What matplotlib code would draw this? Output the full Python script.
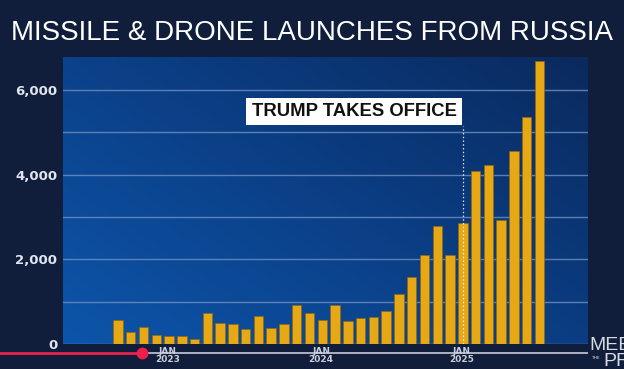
"""Monthly missile & drone launches from Russia, broadcast-style bar chart."""

import matplotlib
matplotlib.use("Agg")
import matplotlib.pyplot as plt
import numpy as np
from matplotlib.colors import LinearSegmentedColormap
from matplotlib.lines import Line2D

# Data, Oct 2022 - Jul 2025
months = [
    "2022-10", "2022-11", "2022-12",
    "2023-01", "2023-02", "2023-03", "2023-04", "2023-05", "2023-06",
    "2023-07", "2023-08", "2023-09", "2023-10", "2023-11", "2023-12",
    "2024-01", "2024-02", "2024-03", "2024-04", "2024-05", "2024-06",
    "2024-07", "2024-08", "2024-09", "2024-10", "2024-11", "2024-12",
    "2025-01", "2025-02", "2025-03", "2025-04", "2025-05", "2025-06",
    "2025-07",
]
launches = [
    556, 279, 392,
    217, 200, 191, 122, 723, 488,
    470, 357, 670, 374, 470, 922,
    723, 574, 932, 548, 609, 645,
    791, 1184, 1578, 2112, 2795, 2112,
    2868, 4095, 4236, 2927, 4551, 5369,
    6686,
]
tick_pos = [3.9, 15.9, 26.9]
tick_labels = ["JAN\n2023", "JAN\n2024", "JAN\n2025"]
event_month = "2025-01"
event_label = "TRUMP TAKES OFFICE"

W, H = 624, 369
BG = "#101d3b"
GOLD = "#e6a815"
GRID = "#6a8cc0"

fig = plt.figure(figsize=(W / 100, H / 100), dpi=100, facecolor=BG)
ax = fig.add_axes([63 / W, 1 - 344 / H, (588 - 63) / W, (344 - 57) / H])
ax.set_facecolor("none")

x = np.arange(len(months))
ax.set_xlim(-4.3, 36.8)
ax.set_ylim(0, 6780)

# blue panel gradient (lighter lower-left, darker upper-right)
gx, gy = np.meshgrid(np.linspace(0, 1, 200), np.linspace(0, 1, 120))
shade = np.clip(0.55 * gx + 0.45 * gy, 0, 1)
cmap = LinearSegmentedColormap.from_list("panel", ["#0d55aa", "#0b3f86", "#0a2a5e"])
ax.imshow(shade, cmap=cmap, origin="lower", extent=[0, 1, 0, 1],
          transform=ax.transAxes, aspect="auto", zorder=0, interpolation="bilinear")

ax.set_yticks([0, 2000, 4000, 6000])
ax.set_yticks([1000, 3000, 5000], minor=True)
ax.grid(True, axis="y", which="both", color=GRID, lw=1.0, alpha=0.85, zorder=1)
ax.set_axisbelow(True)

ax.bar(x, launches, width=0.74, color=GOLD, edgecolor="#94670a",
       linewidth=0.5, zorder=3)

# event marker
ev = months.index(event_month)
ax.vlines(ev, 0, 5150, colors="white", linestyles=(0, (1.2, 1.8)),
          lw=0.9, alpha=0.85, zorder=4)
ax.annotate(event_label, xy=(ev, 5150), xytext=(-4.5, 4.5),
            textcoords="offset points", ha="right", va="bottom",
            fontsize=13.3, fontweight="bold", color="#111111",
            family="Liberation Sans",
            bbox=dict(boxstyle="square,pad=0.28", fc="white", ec="none"),
            zorder=5)

for s in ax.spines.values():
    s.set_visible(False)
ax.tick_params(axis="y", which="both", length=0, pad=4,
               labelcolor="#dfe4ee", labelsize=9.5)
for lab in ax.get_yticklabels():
    lab.set_fontweight("bold")
ax.yaxis.set_major_formatter(plt.FuncFormatter(lambda v, _: f"{v:,.0f}"))

ax.set_xticks(tick_pos)
ax.set_xticklabels(tick_labels, fontsize=6.5, color="#c9ceda",
                   linespacing=0.85, fontweight="bold")
ax.tick_params(axis="x", length=0, pad=2)

fig.text(0.5, 1 - 33 / H, "MISSILE & DRONE LAUNCHES FROM RUSSIA",
         ha="center", va="center", color="white", fontsize=20,
         family="Liberation Sans")

# video player scrub bar
yb = 1 - 353 / H
fig.add_artist(Line2D([142 / W, 587 / W], [yb, yb], color="#aeb3c2",
                      lw=1.4, zorder=-1))
fig.add_artist(Line2D([0, 142 / W], [yb, yb], color="#e8234e",
                      lw=2.0, zorder=-1))
fig.add_artist(Line2D([142 / W], [yb], marker="o", ms=7.5,
                      color="#ee1f4a", zorder=-1))

# network logo, cut by the frame as in the broadcast
fig.text(589 / W, 1 - 345 / H, "MEET", fontsize=14, color="#d6dae2",
         ha="left", va="center", family="Liberation Sans")
fig.text(591 / W, 1 - 358 / H, "THE", fontsize=3.2, color="#d6dae2",
         ha="left", va="center")
fig.text(603 / W, 1 - 362 / H, "PRESS", fontsize=14, color="#d6dae2",
         ha="left", va="center", family="Liberation Sans")

fig.savefig("out.png", dpi=100, facecolor=BG)
